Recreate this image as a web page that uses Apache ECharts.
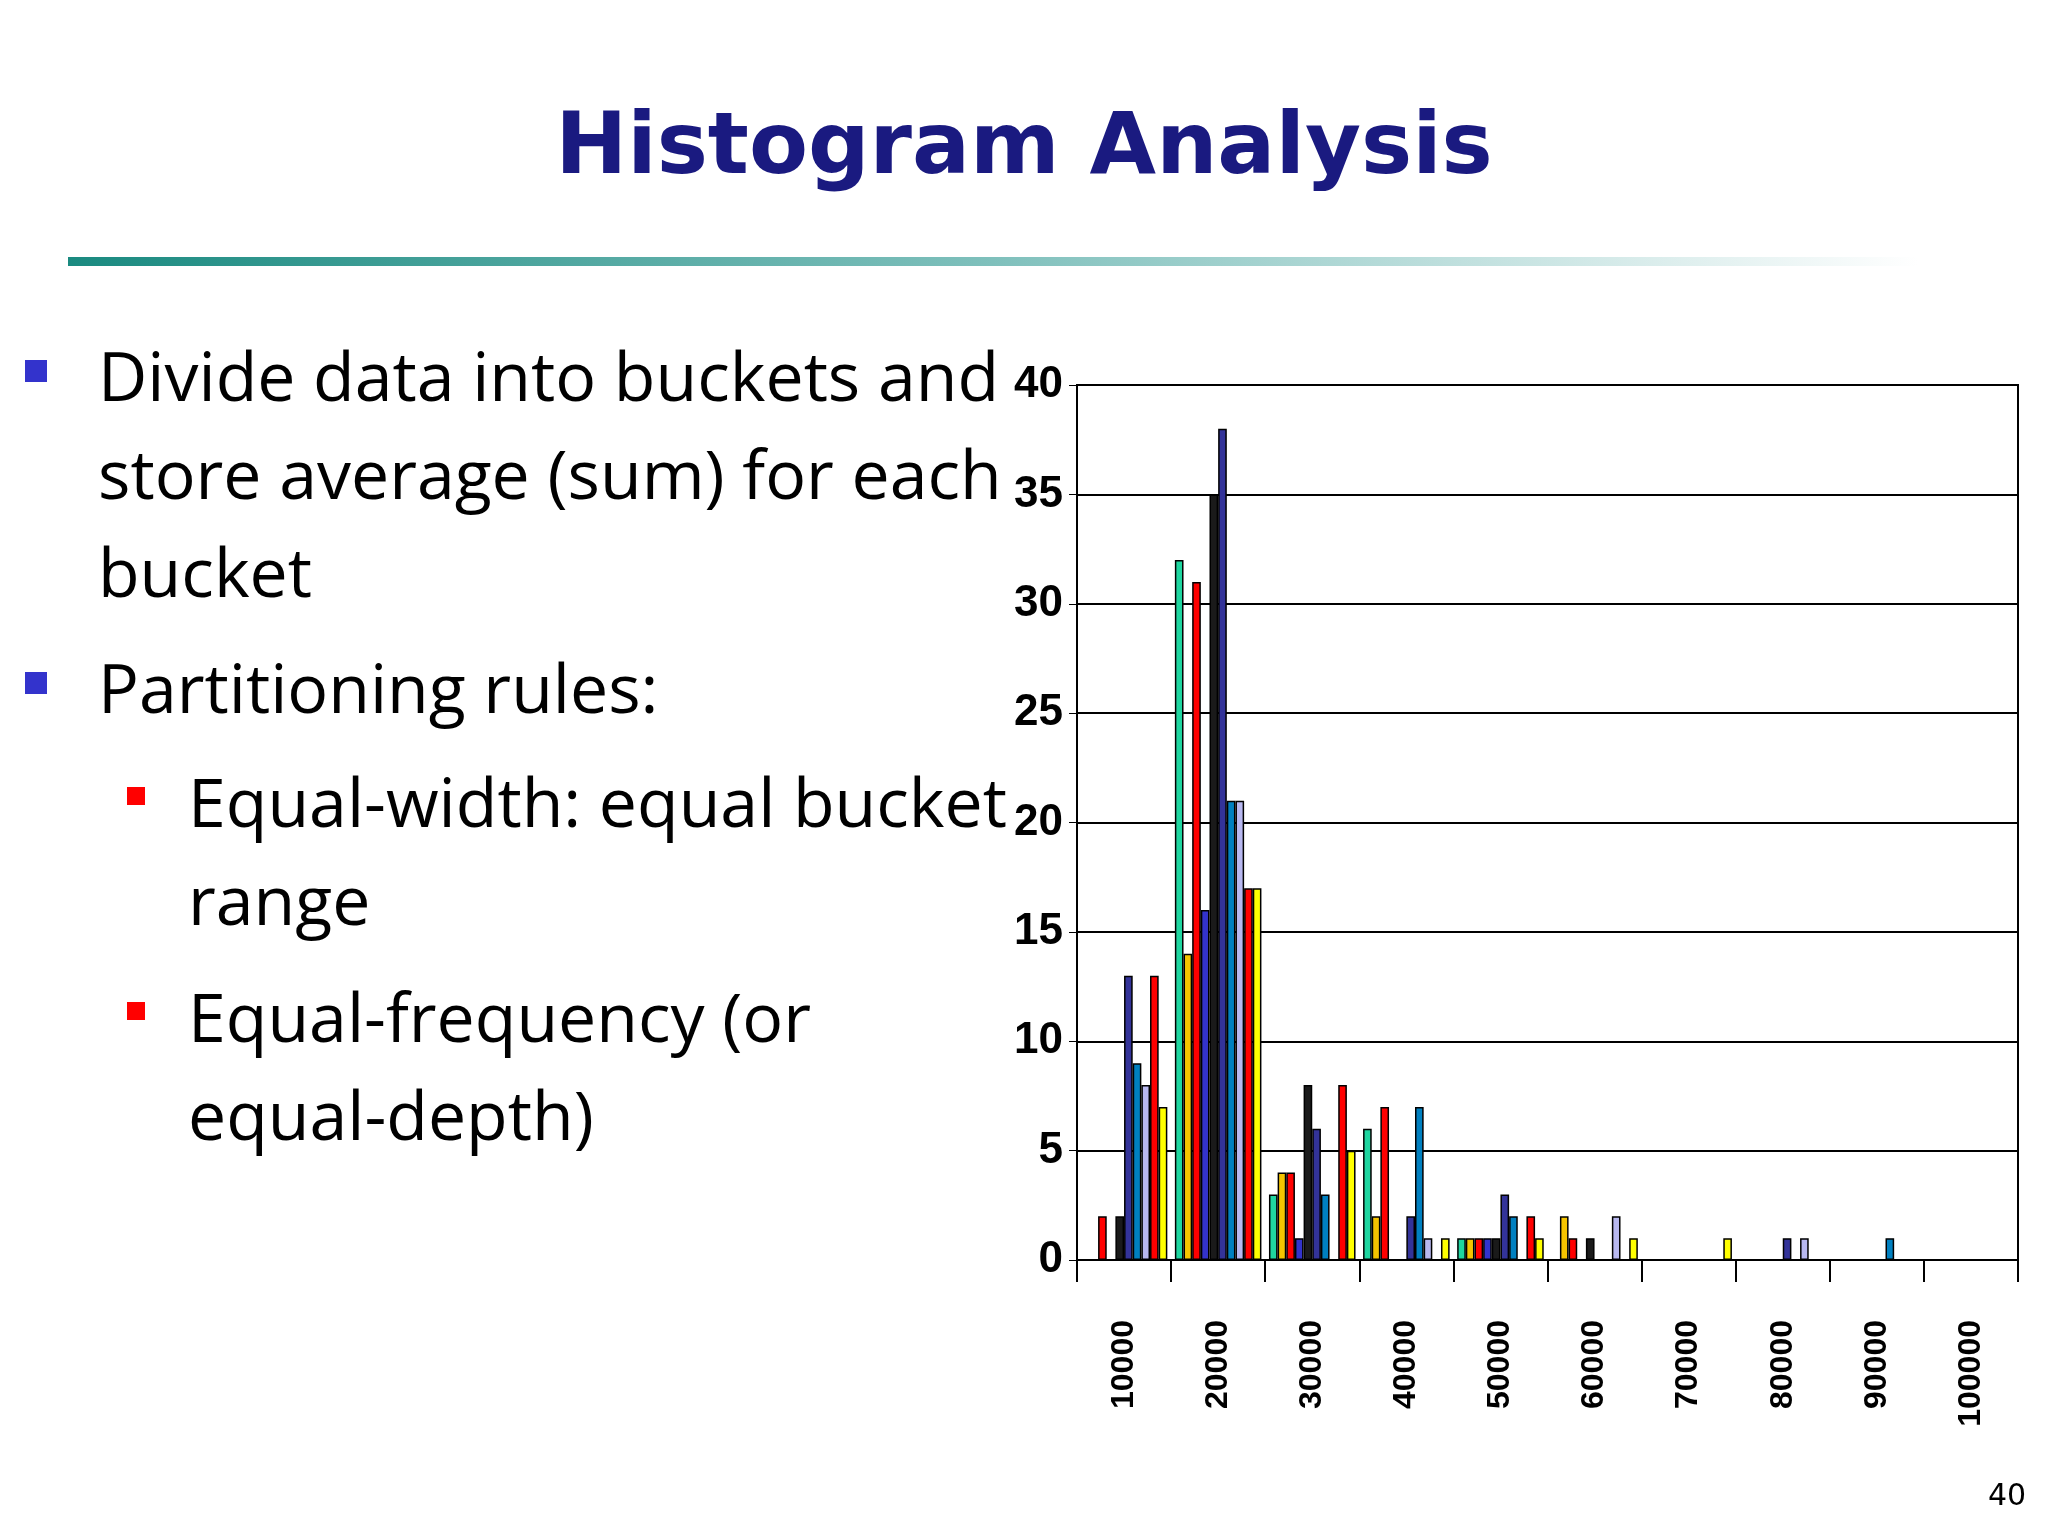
<!DOCTYPE html>
<html><head><meta charset="utf-8">
<script src="https://cdn.jsdelivr.net/npm/echarts@6/dist/echarts.min.js"></script>
<style>html,body{margin:0;padding:0;background:#fff}#c{width:2048px;height:1536px}</style>
</head><body><div id="c"></div>
<script>
const categories = ['10000','20000','30000','40000','50000','60000','70000','80000','90000','100000'];
const seriesColors = ['#1fd6a0','#f5c400','#ff0000','#3333cc','#1a1a1a','#333399','#0080c0','#b8b8f0','#ff0000','#ffff00'];
const s1  = [0, 32, 3, 6, 1, 0, 0, 0, 0, 0];
const s2  = [0, 14, 4, 2, 1, 2, 0, 0, 0, 0];
const s3  = [2, 31, 4, 7, 1, 1, 0, 0, 0, 0];
const s4  = [0, 16, 1, 0, 1, 0, 0, 0, 0, 0];
const s5  = [2, 35, 8, 0, 1, 1, 0, 0, 0, 0];
const s6  = [13, 38, 6, 2, 3, 0, 0, 1, 0, 0];
const s7  = [9, 21, 3, 7, 2, 0, 0, 0, 1, 0];
const s8  = [8, 21, 0, 1, 0, 2, 0, 1, 0, 0];
const s9  = [13, 17, 8, 0, 2, 0, 0, 0, 0, 0];
const s10 = [7, 17, 5, 1, 1, 1, 1, 0, 0, 0];
const allSeries = [s1,s2,s3,s4,s5,s6,s7,s8,s9,s10];

const chart = echarts.init(document.getElementById('c'));
const txt = (x,y,t,size,extra)=>({type:'text',left:x,top:y,style:Object.assign({text:t,fontSize:size,fill:'#000',fontFamily:'Open Sans'},extra||{})});
const sq = (x,y,s,c)=>({type:'rect',shape:{x:x,y:y,width:s,height:s},style:{fill:c}});
chart.setOption({
  animation:false,
  backgroundColor:'#fff',
  graphic:[
    {type:'text',left:'center',top:108,style:{text:'Histogram Analysis',fontSize:86,fontWeight:'bold',fill:'#1a1a80',fontFamily:'DejaVu Sans'}},
    {type:'rect',shape:{x:68,y:257,width:1850,height:9},style:{fill:new echarts.graphic.LinearGradient(0,0,1,0,[{offset:0,color:'#1a8a80'},{offset:0.5,color:'#7fc0bc'},{offset:1,color:'#ffffff'}])}},
    sq(25,360,22,'#3333cc'),
    txt(98,348,'Divide data into buckets and',68),
    txt(98,446,'store average (sum) for each',68),
    txt(98,544,'bucket',68),
    sq(25,672,22,'#3333cc'),
    txt(98,660,'Partitioning rules:',68),
    sq(127,787,18,'#ff0000'),
    txt(188,774,'Equal-width: equal bucket',68),
    txt(188,872,'range',68),
    sq(127,1002,18,'#ff0000'),
    txt(188,989,'Equal-frequency (or',68),
    txt(188,1087,'equal-depth)',68),
    txt(1988,1482,'40',30,{fontFamily:'DejaVu Sans'})
  ],
  grid:{left:1077,right:30,top:385,bottom:276,show:true,borderColor:'#000',borderWidth:2},
  xAxis:{type:'category',data:categories,
    axisLine:{lineStyle:{color:'#000',width:2}},
    axisTick:{show:true,length:22,lineStyle:{color:'#000',width:2}},
    axisLabel:{rotate:90,margin:60,fontSize:32,fontWeight:'bold',color:'#000',fontFamily:'Liberation Sans'}},
  yAxis:{type:'value',min:0,max:40,interval:5,
    axisLine:{show:true,lineStyle:{color:'#000',width:2}},
    axisTick:{show:true,length:8,lineStyle:{color:'#000'}},
    splitLine:{lineStyle:{color:'#000',width:2}},
    axisLabel:{fontSize:44,fontWeight:'bold',color:'#000',margin:14,fontFamily:'Liberation Sans'}},
  series: allSeries.map((d,i)=>({type:'bar',data:d,barGap:'0%',barCategoryGap:'8%',
    itemStyle:{color:seriesColors[i],borderColor:'#000',borderWidth:1.5}}))
});
</script></body></html>
